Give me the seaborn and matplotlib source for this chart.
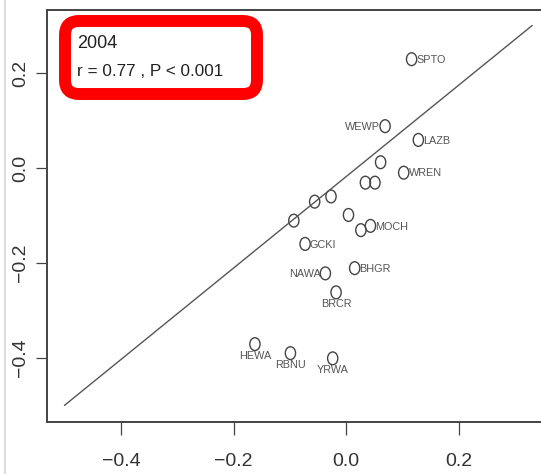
import numpy as np
import pandas as pd
import matplotlib
matplotlib.use("Agg")
import matplotlib.pyplot as plt
import matplotlib.patches as mpatches
import matplotlib.transforms as mtransforms
from matplotlib.lines import Line2D
from matplotlib.path import Path
import seaborn as sns

# --- data ---
species = ["SPTO", "WEWP", "LAZB", "", "WREN", "", "", "", "", "", "",
           "", "MOCH", "GCKI", "NAWA", "BHGR", "BRCR", "HEWA", "RBNU", "YRWA"]
x_vals = [0.116, 0.069, 0.128, 0.061, 0.102, 0.034, 0.051, -0.027, -0.056, -0.093,
          0.004, 0.026, 0.043, -0.073, -0.037, 0.015, -0.018, -0.162, -0.099, -0.024]
y_vals = [0.229, 0.088, 0.059, 0.012, -0.010, -0.031, -0.031, -0.060, -0.071, -0.111,
          -0.099, -0.131, -0.122, -0.160, -0.222, -0.211, -0.262, -0.371, -0.390, -0.401]
label_pos = ["right", "left", "right", "", "right", "", "", "", "", "", "",
             "", "right", "right", "left", "right", "below", "below", "below", "below"]

line_x = [-0.5, 0.33]
line_y = [-0.5, 0.30]

x_ticks = [-0.4, -0.2, 0.0, 0.2]
y_ticks = [-0.4, -0.2, 0.0, 0.2]

year_text = "2004"
stat_text = "r = 0.77 , P < 0.001"

df = pd.DataFrame({"species": species, "x": x_vals, "y": y_vals, "pos": label_pos})
line_df = pd.DataFrame({"x": line_x, "y": line_y})

sns.set_style("ticks")
plt.rcParams["font.family"] = ["Liberation Sans", "DejaVu Sans"]

W, H = 541, 474
fig = plt.figure(figsize=(W / 100, H / 100), dpi=100)
ax = fig.add_axes([47 / W, 1 - 422 / H, (W - 47) / W, (422 - 10) / H])

dark = "#444444"

# squashed circle marker (the source picture is compressed horizontally)
ell = Path.unit_circle().transformed(mtransforms.Affine2D().scale(0.8, 1.0))

sns.lineplot(data=line_df, x="x", y="y", sort=False, color="#555555",
             linewidth=1.0, ax=ax)
sns.scatterplot(data=df, x="x", y="y", marker=ell, s=85, facecolor="none",
                edgecolor=dark, linewidth=1.0, ax=ax)

for _, r in df.iterrows():
    if not r["species"]:
        continue
    if r["pos"] == "right":
        off, ha, va = (3.5, -0.5), "left", "center"
    elif r["pos"] == "left":
        off, ha, va = (-3.5, -0.5), "right", "center"
    else:
        off, ha, va = (0, -8.5), "center", "center"
    ax.annotate(r["species"], (r["x"], r["y"]), xytext=off, textcoords="offset points",
                ha=ha, va=va, fontsize=7.8, color="#555555")

ax.set_xlim(-0.531, (W - 346.3) / 563.3)
ax.set_ylim(-0.535, 0.3326)
ax.set_xticks(x_ticks)
ax.set_yticks(y_ticks)
ax.set_xticklabels([f"{v:.1f}".replace("-", "\u2212") for v in x_ticks])
ax.set_yticklabels([f"{v:.1f}".replace("-", "\u2212") for v in y_ticks],
                   rotation=90, va="center")
ax.set_xlabel("")
ax.set_ylabel("")

for side in ["left", "bottom", "top"]:
    ax.spines[side].set_visible(True)
    ax.spines[side].set_color(dark)
    ax.spines[side].set_linewidth(1.4)
ax.spines["right"].set_visible(False)

ax.tick_params(axis="x", length=9.4, width=0.9, color=dark, pad=13,
               labelsize=14, labelcolor="#333333")
ax.tick_params(axis="y", length=8, width=0.9, color=dark, pad=5,
               labelsize=14, labelcolor="#333333")

# red highlight box around the statistics
box = mpatches.FancyBboxPatch((65, H - 94), 192, 73,
                              boxstyle="round,pad=0,rounding_size=14",
                              transform=mtransforms.IdentityTransform(),
                              facecolor="white", edgecolor="#ff0000", linewidth=8.6)
fig.add_artist(box)
fig.text(77 / W, 1 - 43 / H, year_text, fontsize=13, color="#222222",
         ha="left", va="center")
fig.text(77 / W, 1 - 72 / H, stat_text, fontsize=12.3, color="#222222",
         ha="left", va="center")

# faint page edge on the left
fig.add_artist(Line2D([5 / W, 5 / W], [0, 1], color="#dddddd", linewidth=1.5))

fig.savefig("out.png", dpi=100)
